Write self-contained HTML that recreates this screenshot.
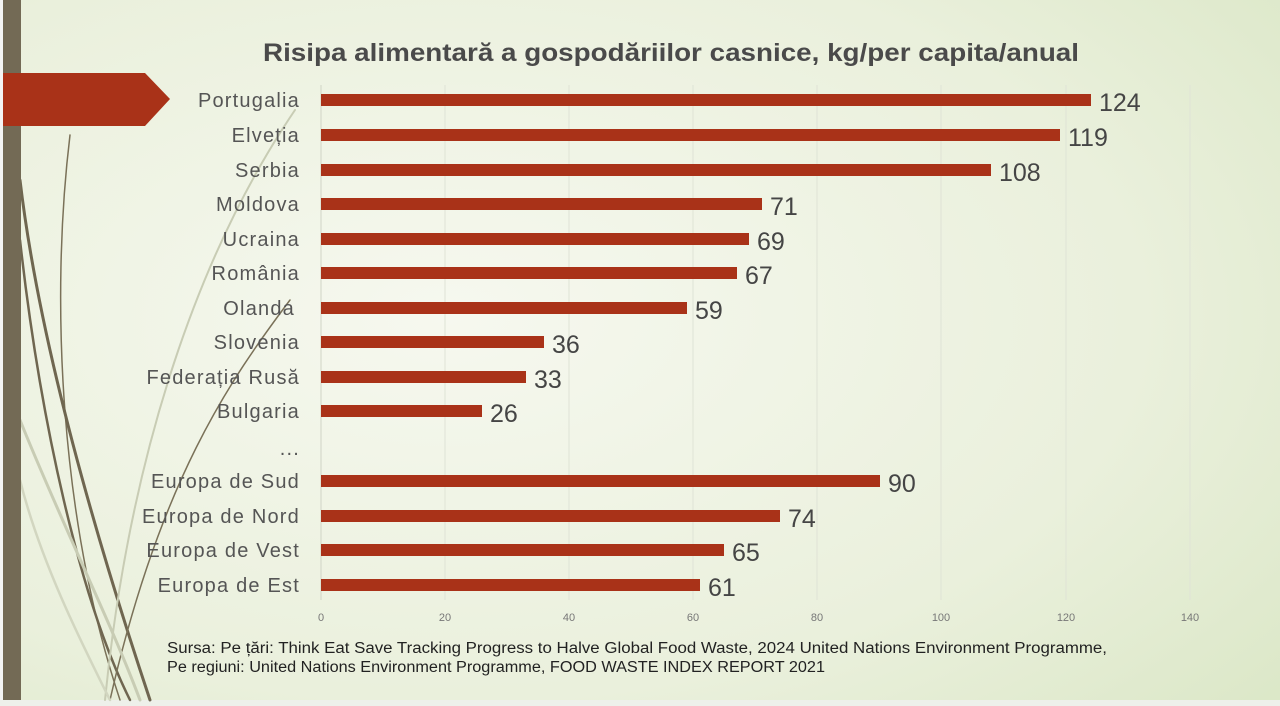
<!DOCTYPE html>
<html><head><meta charset="utf-8"><style>
body{margin:0;width:1280px;height:706px;overflow:hidden}
svg{display:block}
text{font-family:"Liberation Sans",sans-serif}
</style></head><body>
<svg width="1280" height="706" viewBox="0 0 1280 706">
<defs>
<radialGradient id="bg" cx="0.35" cy="0.45" r="0.9">
<stop offset="0" stop-color="#f6f8ef"/><stop offset="0.6" stop-color="#eaf0dc"/><stop offset="1" stop-color="#d9e6c4"/>
</radialGradient>
</defs>
<rect width="1280" height="706" fill="url(#bg)"/>
<rect x="0" y="0" width="3" height="706" fill="#f4f4f4"/>
<rect x="0" y="700" width="1280" height="6" fill="#eef0ea"/>
<g fill="none" stroke-linecap="round">
<path d="M70 135 C 50 300, 60 520, 120 700" stroke="#7a7158" stroke-width="1.5"/>
<path d="M20 180 C 40 350, 100 550, 150 700" stroke="#6f6650" stroke-width="3"/>
<path d="M20 240 C 40 420, 80 600, 130 700" stroke="#6f6650" stroke-width="2.5"/>
<path d="M295 110 C 200 250, 130 450, 105 700" stroke="#c8ccb4" stroke-width="2"/>
<path d="M290 300 C 230 380, 160 480, 110 700" stroke="#7a7158" stroke-width="1.5"/>
<path d="M20 420 C 60 520, 110 620, 140 700" stroke="#c8ccb4" stroke-width="3"/>
<path d="M20 480 C 40 560, 80 640, 110 700" stroke="#d2d6c0" stroke-width="2.5"/>
</g>
<rect x="3" y="0" width="18" height="700" fill="#736a55"/>
<polygon points="3,73 145,73 170,99 145,126 3,126" fill="#a93218"/>
<text x="263" y="61" textLength="816" lengthAdjust="spacingAndGlyphs" font-size="25" font-weight="bold" fill="#4a4a4a">Risipa alimentară a gospodăriilor casnice, kg/per capita/anual</text>
<g stroke="#dfe3d6" stroke-width="1">
<line x1="445" y1="85" x2="445" y2="600"/><line x1="569" y1="85" x2="569" y2="600"/><line x1="693" y1="85" x2="693" y2="600"/><line x1="817" y1="85" x2="817" y2="600"/><line x1="941" y1="85" x2="941" y2="600"/><line x1="1066" y1="85" x2="1066" y2="600"/><line x1="1190" y1="85" x2="1190" y2="600"/>
</g>
<line x1="321" y1="85" x2="321" y2="600" stroke="#d0d4c6"/>
<g font-size="11" fill="#777" text-anchor="middle">
<text x="321" y="621">0</text><text x="445" y="621">20</text><text x="569" y="621">40</text><text x="693" y="621">60</text><text x="817" y="621">80</text><text x="941" y="621">100</text><text x="1066" y="621">120</text><text x="1190" y="621">140</text>
</g>
<g fill="#a93218">
<rect x="321" y="94" width="770" height="12"/>
<rect x="321" y="129" width="739" height="12"/>
<rect x="321" y="164" width="670" height="12"/>
<rect x="321" y="198" width="441" height="12"/>
<rect x="321" y="233" width="428" height="12"/>
<rect x="321" y="267" width="416" height="12"/>
<rect x="321" y="302" width="366" height="12"/>
<rect x="321" y="336" width="223" height="12"/>
<rect x="321" y="371" width="205" height="12"/>
<rect x="321" y="405" width="161" height="12"/>
<rect x="321" y="475" width="559" height="12"/>
<rect x="321" y="510" width="459" height="12"/>
<rect x="321" y="544" width="403" height="12"/>
<rect x="321" y="579" width="379" height="12"/>
</g>
<g font-size="25" fill="#454545">
<text x="1099" y="111">124</text><text x="1068" y="146">119</text><text x="999" y="181">108</text><text x="770" y="215">71</text><text x="757" y="250">69</text><text x="745" y="284">67</text><text x="695" y="319">59</text><text x="552" y="353">36</text><text x="534" y="388">33</text><text x="490" y="422">26</text><text x="888" y="492">90</text><text x="788" y="527">74</text><text x="732" y="561">65</text><text x="708" y="596">61</text>
</g>
<g font-size="20" fill="#555" text-anchor="end" letter-spacing="1.2">
<text x="300" y="107">Portugalia</text><text x="300" y="142">Elveția</text><text x="300" y="177">Serbia</text><text x="300" y="211">Moldova</text><text x="300" y="246">Ucraina</text><text x="300" y="280">România</text><text x="295" y="315">Olanda</text><text x="300" y="349">Slovenia</text><text x="300" y="384">Federația Rusă</text><text x="300" y="418">Bulgaria</text><text x="300" y="455">...</text><text x="300" y="488">Europa de Sud</text><text x="300" y="523">Europa de Nord</text><text x="300" y="557">Europa de Vest</text><text x="300" y="592">Europa de Est</text>
</g>
<g font-size="15.5" fill="#222">
<text x="167" y="653" textLength="940" lengthAdjust="spacingAndGlyphs">Sursa: Pe țări: Think Eat Save Tracking Progress to Halve Global Food Waste, 2024 United Nations Environment Programme,</text>
<text x="167" y="672" textLength="658" lengthAdjust="spacingAndGlyphs">Pe regiuni: United Nations Environment Programme, FOOD WASTE INDEX REPORT 2021</text>
</g>
</svg>
</body></html>
